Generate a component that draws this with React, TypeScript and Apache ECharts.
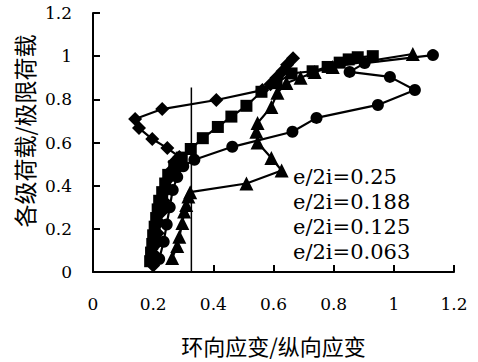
import React, { useEffect, useRef } from "react";
import * as echarts from "echarts";

const xTicks = [0, 0.2, 0.4, 0.6, 0.8, 1, 1.2];
const yTicks = [0, 0.2, 0.4, 0.6, 0.8, 1, 1.2];

const legendNames = ["e/2i=0.25", "e/2i=0.188", "e/2i=0.125", "e/2i=0.063"];

// diamond series
const diamondX = [0.2, 0.205, 0.21, 0.215, 0.22, 0.23, 0.235, 0.245, 0.25, 0.26, 0.27, 0.287, 0.247, 0.197, 0.153, 0.14, 0.23, 0.41, 0.563, 0.59, 0.61, 0.63, 0.645, 0.665];
const diamondY = [0.03, 0.08, 0.13, 0.18, 0.23, 0.28, 0.33, 0.38, 0.43, 0.47, 0.51, 0.533, 0.574, 0.616, 0.667, 0.709, 0.755, 0.797, 0.843, 0.87, 0.9, 0.93, 0.96, 0.99];

// square series
const squareX = [0.19, 0.193, 0.197, 0.2, 0.205, 0.21, 0.215, 0.22, 0.23, 0.24, 0.25, 0.27, 0.295, 0.325, 0.365, 0.415, 0.46, 0.51, 0.56, 0.61, 0.66, 0.73, 0.78, 0.82, 0.85, 0.88, 0.93];
const squareY = [0.05, 0.09, 0.13, 0.17, 0.21, 0.25, 0.29, 0.33, 0.37, 0.41, 0.45, 0.49, 0.53, 0.57, 0.62, 0.672, 0.72, 0.77, 0.835, 0.875, 0.92, 0.93, 0.95, 0.97, 0.985, 0.995, 1.0];

// triangle series
const triX = [0.263, 0.28, 0.287, 0.297, 0.303, 0.31, 0.317, 0.323, 0.51, 0.627, 0.593, 0.547, 0.543, 0.547, 0.593, 0.613, 0.643, 0.69, 0.737, 0.797, 1.063];
const triY = [0.065, 0.12, 0.163, 0.227, 0.28, 0.31, 0.35, 0.37, 0.41, 0.47, 0.528, 0.6, 0.65, 0.69, 0.765, 0.83, 0.876, 0.9, 0.927, 0.95, 1.01];

// circle series
const circX = [0.22, 0.235, 0.245, 0.255, 0.265, 0.28, 0.3, 0.337, 0.463, 0.663, 0.743, 0.947, 1.07, 0.987, 0.853, 0.903, 1.13];
const circY = [0.06, 0.14, 0.22, 0.3, 0.38, 0.44, 0.49, 0.52, 0.58, 0.65, 0.714, 0.774, 0.843, 0.904, 0.927, 0.968, 1.005];

// vertical reference line
const refLineX = [0.327, 0.327];
const refLineY = [0, 0.855];

const zip = (xs: number[], ys: number[]) => xs.map((x, i) => [x, ys[i]]);

const SERIF = "DejaVu Serif";
const CJK = "Noto Sans CJK SC";

export default function App() {
  const ref = useRef<HTMLDivElement>(null);
  useEffect(() => {
    if (!ref.current) return;
    const chart = echarts.init(ref.current, null, { renderer: "svg" });
    const lineSeries = (name: string, data: number[][], symbol: string, size: number) => ({
      name,
      type: "line",
      data,
      symbol,
      symbolSize: size,
      showSymbol: true,
      lineStyle: { color: "#000", width: 2.2 },
      itemStyle: { color: "#000" },
      z: 3,
    });
    const option: any = {
      animation: false,
      backgroundColor: "#fff",
      textStyle: { fontFamily: SERIF },
      grid: { left: 93, right: 24, top: 13, bottom: 90 },
      xAxis: {
        type: "value",
        min: xTicks[0],
        max: xTicks[xTicks.length - 1],
        interval: 0.2,
        axisLine: { show: true, lineStyle: { color: "#000", width: 2 } },
        axisTick: { show: true, inside: true, length: 7, lineStyle: { color: "#000", width: 2 } },
        axisLabel: { color: "#000", fontSize: 17, fontFamily: SERIF, fontWeight: "normal", margin: 23 },
        splitLine: { show: false },
        name: "环向应变/纵向应变",
        nameLocation: "middle",
        nameGap: 62,
        nameTextStyle: { color: "#000", fontSize: 22, fontFamily: CJK },
      },
      yAxis: {
        type: "value",
        min: yTicks[0],
        max: yTicks[yTicks.length - 1],
        interval: 0.2,
        axisLine: { show: true, lineStyle: { color: "#000", width: 2 } },
        axisTick: { show: true, inside: true, length: 7, lineStyle: { color: "#000", width: 2 } },
        axisLabel: { color: "#000", fontSize: 17, fontFamily: SERIF, fontWeight: "normal", margin: 21 },
        splitLine: { show: false },
      },
      graphic: [
        {
          type: "text",
          x: 24,
          y: 131,
          rotation: Math.PI / 2,
          style: {
            text: "各级荷载/极限荷载",
            fontSize: 23,
            fontFamily: CJK,
            fill: "#000",
            align: "center",
            verticalAlign: "middle",
          },
        },
        ...legendNames.map((t, i) => ({
          type: "text",
          left: 293,
          top: 166 + i * 25,
          style: { text: t, fontSize: 21, fontFamily: SERIF, fill: "#000" },
        })),
      ],
      series: [
        lineSeries(legendNames[0], zip(diamondX, diamondY), "diamond", 14),
        lineSeries(legendNames[1], zip(squareX, squareY), "rect", 12),
        lineSeries(legendNames[2], zip(triX, triY), "triangle", 14),
        lineSeries(legendNames[3], zip(circX, circY), "circle", 12),
        {
          type: "line",
          data: zip(refLineX, refLineY),
          showSymbol: false,
          symbol: "none",
          lineStyle: { color: "#000", width: 1.5 },
          z: 2,
        },
      ],
    };
    chart.setOption(option);
    return () => chart.dispose();
  }, []);
  return (
    <div
      ref={ref}
      style={{ position: "fixed", left: 0, top: 0, width: 478, height: 362, background: "#fff" }}
    />
  );
}
